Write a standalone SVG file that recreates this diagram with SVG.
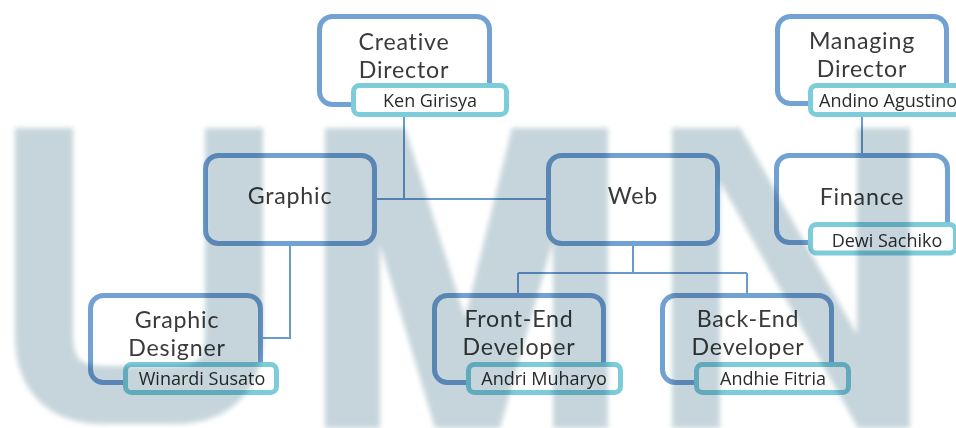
<svg xmlns="http://www.w3.org/2000/svg" width="956" height="428" viewBox="0 0 956 428">
<defs>
<style>
.box{fill:none;stroke:#72a1d3;stroke-width:5}
.name{fill:#ffffff;stroke:#7cccda;stroke-width:5}
.t{font-family:Lato,"Open Sans","Liberation Sans",sans-serif;font-size:23.2px;letter-spacing:0.8px;fill:#3a3a3a;text-anchor:middle}
.n{font-family:"Open Sans","Liberation Sans",sans-serif;font-size:18px;fill:#2b2b2b;text-anchor:middle}
.c{fill:none;stroke:#6a9bcf;stroke-width:2}
.wm{fill:#c6d5db}
</style>
<filter id="soft" filterUnits="userSpaceOnUse" x="-20" y="100" width="1000" height="360">
<feGaussianBlur stdDeviation="2.5"/>
</filter>
</defs>
<rect x="0" y="0" width="956" height="428" fill="#ffffff"/>

<g id="connectors">
<path class="c" d="M404 117 V199"/>
<path class="c" d="M377 199 H546"/>
<path class="c" d="M290 246 V338 H263"/>
<path class="c" d="M633 246 V273"/>
<path class="c" d="M518 273 H747"/>
<path class="c" d="M518 273 V293"/>
<path class="c" d="M747 273 V293"/>
<path class="c" d="M862 117 V153"/>
</g>

<g id="creative-director">
<rect class="box" x="319.5" y="16.5" width="170" height="88" rx="13"/>
<text class="t" x="404" y="50"><tspan x="404">Creative</tspan><tspan x="404" dy="28">Director</tspan></text>
<rect class="name" x="353.5" y="85.5" width="153" height="29" rx="6"/>
<text class="n" x="430" y="107">Ken Girisya</text>
</g>

<g id="managing-director">
<rect class="box" x="777.5" y="16.5" width="169" height="87" rx="13"/>
<text class="t" x="862" y="49"><tspan x="862">Managing</tspan><tspan x="862" dy="28">Director</tspan></text>
<rect class="name" x="810.5" y="85.5" width="160" height="29" rx="6"/>
<text class="n" x="819" y="107" style="text-anchor:start">Andino Agustino</text>
</g>

<g id="graphic">
<rect class="box" x="205.5" y="155.5" width="169" height="88" rx="13"/>
<text class="t" x="290" y="204">Graphic</text>
</g>

<g id="web">
<rect class="box" x="548.5" y="155.5" width="169" height="88" rx="13"/>
<text class="t" x="633" y="204">Web</text>
</g>

<g id="finance">
<rect class="box" x="776.5" y="155.5" width="171" height="87" rx="13"/>
<text class="t" x="862" y="205">Finance</text>
<rect class="name" x="810.5" y="224.5" width="145" height="28.5" rx="6"/>
<text class="n" x="887" y="247">Dewi Sachiko</text>
</g>

<g id="graphic-designer">
<rect class="box" x="90.5" y="295.5" width="170" height="87" rx="13"/>
<text class="t" x="177" y="328"><tspan x="177">Graphic</tspan><tspan x="177" dy="28">Designer</tspan></text>
<rect class="name" x="125.5" y="364.5" width="151" height="28" rx="6"/>
<text class="n" x="202" y="385">Winardi Susato</text>
</g>

<g id="front-end-developer">
<rect class="box" x="434.5" y="295.5" width="169" height="87" rx="13"/>
<text class="t" x="519" y="327"><tspan x="519">Front-End</tspan><tspan x="519" dy="28">Developer</tspan></text>
<rect class="name" x="468.5" y="364.5" width="152" height="28" rx="6"/>
<text class="n" x="544" y="385">Andri Muharyo</text>
</g>

<g id="back-end-developer">
<rect class="box" x="662.5" y="295.5" width="169" height="87" rx="13"/>
<text class="t" x="748" y="327"><tspan x="748">Back-End</tspan><tspan x="748" dy="28">Developer</tspan></text>
<rect class="name" x="696.5" y="364.5" width="152" height="28" rx="6"/>
<text class="n" x="773" y="385">Andhie Fitria</text>
</g>

<g id="watermark" style="mix-blend-mode:multiply" filter="url(#soft)">
<path d="M44 128 V335 Q44 395 104 395 H174 Q234 395 234 335 V128" fill="none" stroke="#c6d5db" stroke-width="58"/>
<rect class="wm" x="325" y="128" width="55" height="300"/>
<polygon class="wm" points="345,128 405,128 500,428 435,428"/>
<polygon class="wm" points="512,128 585,128 500,428 438,428"/>
<rect class="wm" x="553" y="128" width="55" height="300"/>
<rect class="wm" x="672" y="128" width="48" height="300"/>
<polygon class="wm" points="690,128 740,128 910,428 858,428"/>
<rect class="wm" x="857" y="128" width="53" height="300"/>
</g>
</svg>
